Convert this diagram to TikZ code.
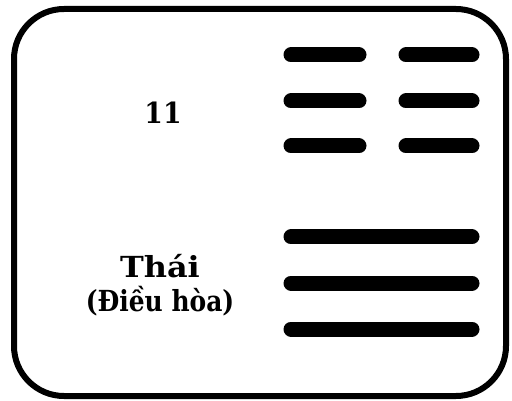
\documentclass[tikz,border=0pt]{standalone}
\usepackage{fontspec}
\setmainfont{DejaVu Serif}
\usetikzlibrary{positioning}
\tikzset{yao/.style={line width=15pt, line cap=round},
  quai/.style={font=\fontsize{29}{32}\selectfont\bfseries}}
\begin{document}
\begin{tikzpicture}[x=1pt,y=-1pt]
\useasboundingbox (0,0) rectangle (512,401);
%frame
\draw [black, line width=6pt, rounded corners=50pt] (14,9) rectangle (506,396);
%labels
\node [quai, xscale=0.92] (so) at (163,113) {11};
\node [quai, xscale=1.1] (ten) at (160,266) {Thái};
\node [quai, xscale=0.86] (nghia) at (160,301) {(Điều hòa)};
%upper trigram: Khon
\foreach \y in {55,101,146} {
  \draw [black, yao] (291,\y)--(359,\y);
  \draw [black, yao] (406,\y)--(472,\y);
}
%lower trigram: Can
\foreach \y in {237,283,329}
  \draw [black, yao] (291,\y)--(472,\y);
\end{tikzpicture}
\end{document}
